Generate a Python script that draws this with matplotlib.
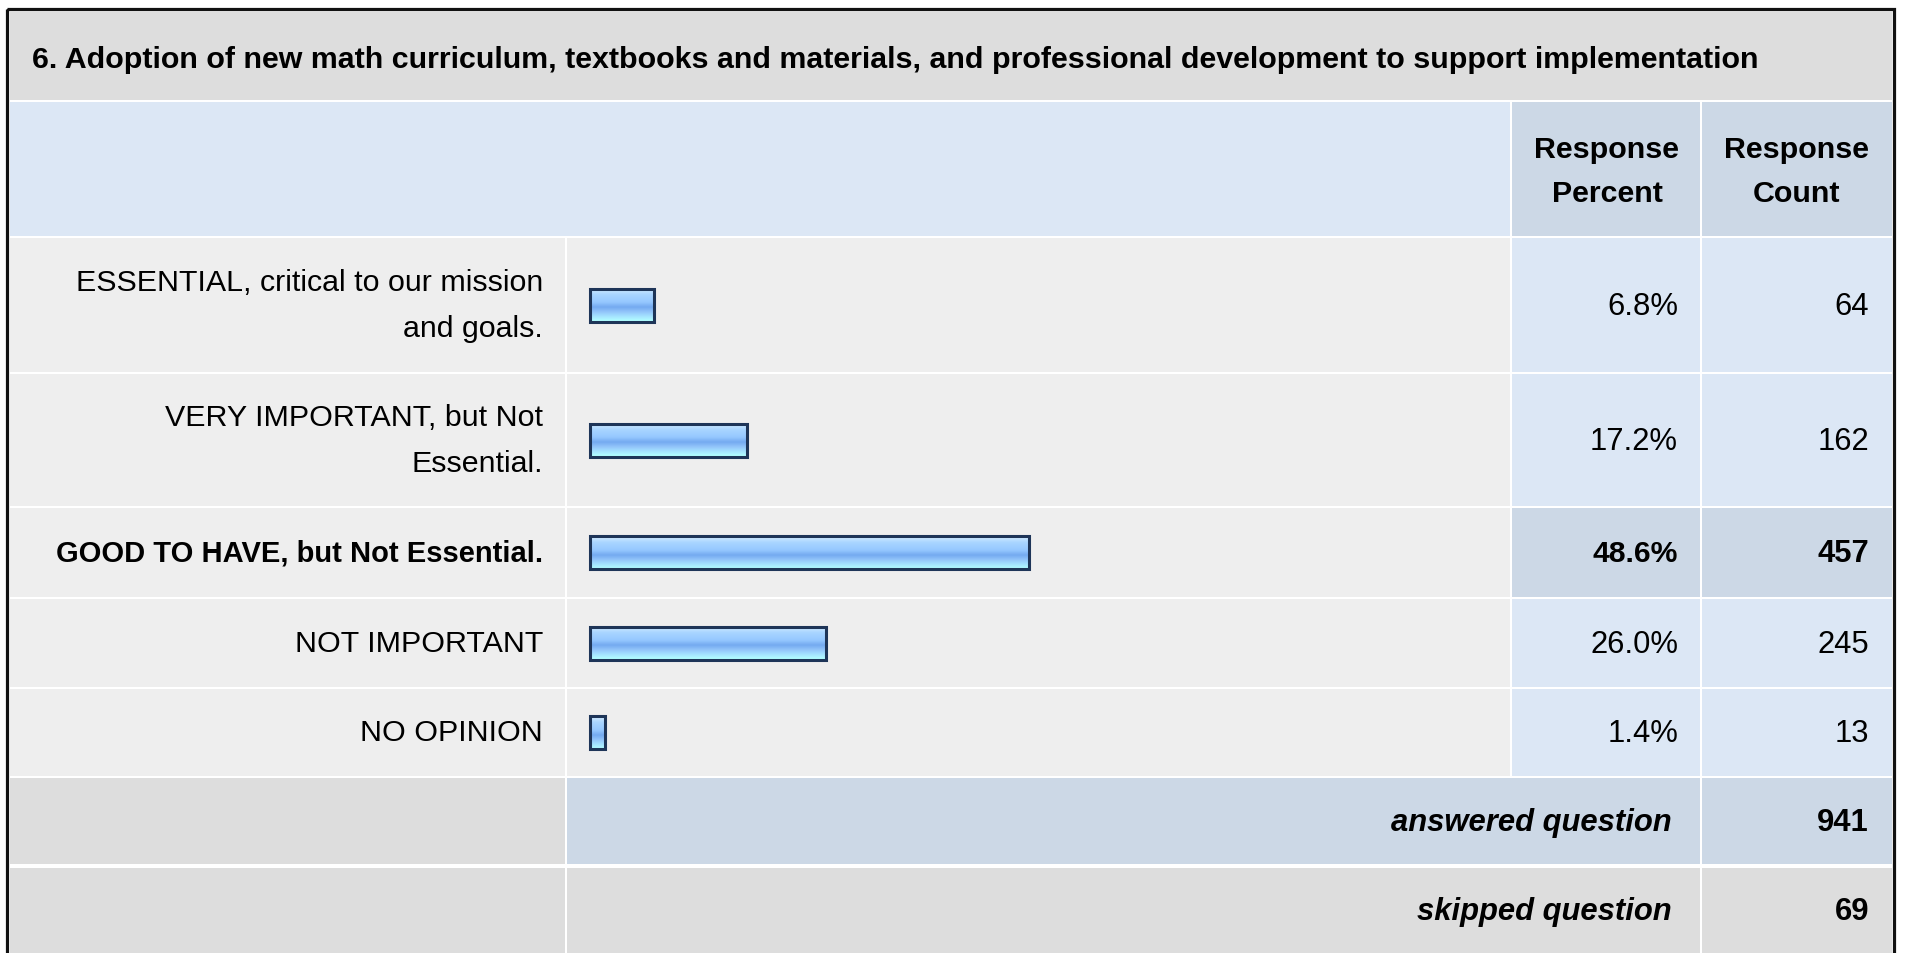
import numpy as np
import matplotlib
matplotlib.use("Agg")
import matplotlib.pyplot as plt
from matplotlib.patches import Rectangle
from matplotlib.colors import LinearSegmentedColormap

plt.rcParams['font.family'] = ['Liberation Sans', 'DejaVu Sans']

# data
title = "6. Adoption of new math curriculum, textbooks and materials, and professional development to support implementation"
labels = ["ESSENTIAL, critical to our mission\nand goals.",
          "VERY IMPORTANT, but Not\nEssential.",
          "GOOD TO HAVE, but Not Essential.",
          "NOT IMPORTANT",
          "NO OPINION"]
percents = [6.8, 17.2, 48.6, 26.0, 1.4]
counts = [64, 162, 457, 245, 13]
highlight = 2
answered = 941
skipped = 69

# layout (pixels)
W, H = 1907, 954
col_x = [10, 567, 1512, 1702, 1892]          # left edges of columns + right end
title_y = (12, 101)
head_y = (103, 237)
row_y = [239, 375, 509, 600, 690, 779]      # data rows top edges, last = bottom
ans_y = (779, 867)
skip_y = (869, 954)
gap = 2

c_title = "#DDDDDD"
c_head = "#DCE7F5"
c_head_dark = "#CCD8E6"
c_cell = "#EEEEEE"
c_num = "#DCE7F5"
fs_head = 21.9
fs_lab = 21.9
fs_lab_bold = 21.0
fs_num = 22.3

fig = plt.figure(figsize=(W / 100, H / 100), dpi=100)
fig.patch.set_facecolor("white")
ax = fig.add_axes([0, 0, 1, 1])
ax.set_xlim(0, W)
ax.set_ylim(H, 0)
ax.axis("off")


def cell(x0, x1, y0, y1, color):
    ax.add_patch(Rectangle((x0, y0), x1 - x0, y1 - y0, facecolor=color, edgecolor="none"))


# outer border
ax.add_patch(Rectangle((7, 10), 1887, 960, facecolor="none", edgecolor="#111111", lw=2.3))

# title row
cell(col_x[0], col_x[-1], *title_y, c_title)
ax.text(32, (title_y[0] + title_y[1]) / 2 + 3, title, fontsize=fs_head, fontweight="bold",
        ha="left", va="center")

# header row
cell(col_x[0], col_x[2] - gap, *head_y, c_head)
cell(col_x[2], col_x[3] - gap, *head_y, c_head_dark)
cell(col_x[3], col_x[4], *head_y, c_head_dark)
hy = (head_y[0] + head_y[1]) / 2 + 2
ax.text((col_x[2] + col_x[3]) / 2, hy, "Response\nPercent", fontsize=fs_head, fontweight="bold",
        ha="center", va="center", linespacing=1.73)
ax.text((col_x[3] + col_x[4]) / 2, hy, "Response\nCount", fontsize=fs_head, fontweight="bold",
        ha="center", va="center", linespacing=1.73)

# data rows
centers = []
for i, (lab, p, n) in enumerate(zip(labels, percents, counts)):
    y0, y1 = row_y[i], row_y[i + 1] - gap
    yc = (y0 + y1) / 2
    centers.append(yc)
    numc = c_head_dark if i == highlight else c_num
    cell(col_x[0], col_x[1] - gap, y0, y1, c_cell)
    cell(col_x[1], col_x[2] - gap, y0, y1, c_cell)
    cell(col_x[2], col_x[3] - gap, y0, y1, numc)
    cell(col_x[3], col_x[4], y0, y1, numc)
    bold = i == highlight
    fw = "bold" if bold else "normal"
    ax.text(543, yc, lab, fontsize=fs_lab_bold if bold else fs_lab, fontweight=fw,
            ha="right", va="center", multialignment="right", linespacing=1.8)
    ax.text(1678, yc + 1, f"{p:.1f}%", fontsize=fs_num - (0.6 if bold else 0), fontweight=fw,
            ha="right", va="center")
    ax.text(1869, yc + 1, f"{n}", fontsize=fs_num, fontweight=fw, ha="right", va="center")

# answered / skipped
for (y0, y1), txt, val, mid in [(ans_y, "answered question", answered, c_head_dark),
                                 (skip_y, "skipped question", skipped, c_title)]:
    y1 = y1 - gap if y1 < H else y1
    yc = (y0 + y1) / 2
    cell(col_x[0], col_x[1] - gap, y0, y1, c_title)
    cell(col_x[1], col_x[3] - gap, y0, y1, mid)
    cell(col_x[3], col_x[4], y0, y1, mid)
    ax.text(1672, yc + 1, txt, fontsize=fs_num, fontweight="bold", fontstyle="italic",
            ha="right", va="center")
    ax.text(1869, yc + 1, f"{val}", fontsize=fs_num, fontweight="bold", ha="right", va="center")

# bars: own axes, x in percent
px_per_pct = 8.98
bx_left, bx_right = col_x[1], col_x[2] - gap
bx = fig.add_axes([bx_left / W, 0, (bx_right - bx_left) / W, 1])
bx.set_facecolor("none")
bx.axis("off")
x_lo = -(590 - bx_left) / px_per_pct
x_hi = x_lo + (bx_right - bx_left) / px_per_pct

bar_cmap = LinearSegmentedColormap.from_list(
    "bar", [(0.0, "#D6EEFF"), (0.18, "#AAD6FF"), (0.42, "#96C8FF"),
            (0.58, "#74AAF0"), (0.72, "#92C4FA"), (0.86, "#A4E2FF"), (1.0, "#B2FFFF")])
grad = np.linspace(0, 1, 64).reshape(-1, 1)

bars = bx.barh(centers, [p + 0.3 for p in percents], height=33, left=0,
               facecolor="none", edgecolor="#1E3558", linewidth=2.2, zorder=3)
for b in bars:
    x0, y0 = b.get_x(), b.get_y()
    x1, y1 = x0 + b.get_width(), y0 + b.get_height()
    im = bx.imshow(grad, cmap=bar_cmap, aspect="auto", extent=[x0, x1, y1, y0],
                   interpolation="bilinear", zorder=2)
    im.set_clip_path(b)
bx.set_xlim(x_lo, x_hi)
bx.set_ylim(H, 0)

fig.savefig("out.png", dpi=100, facecolor="white")
